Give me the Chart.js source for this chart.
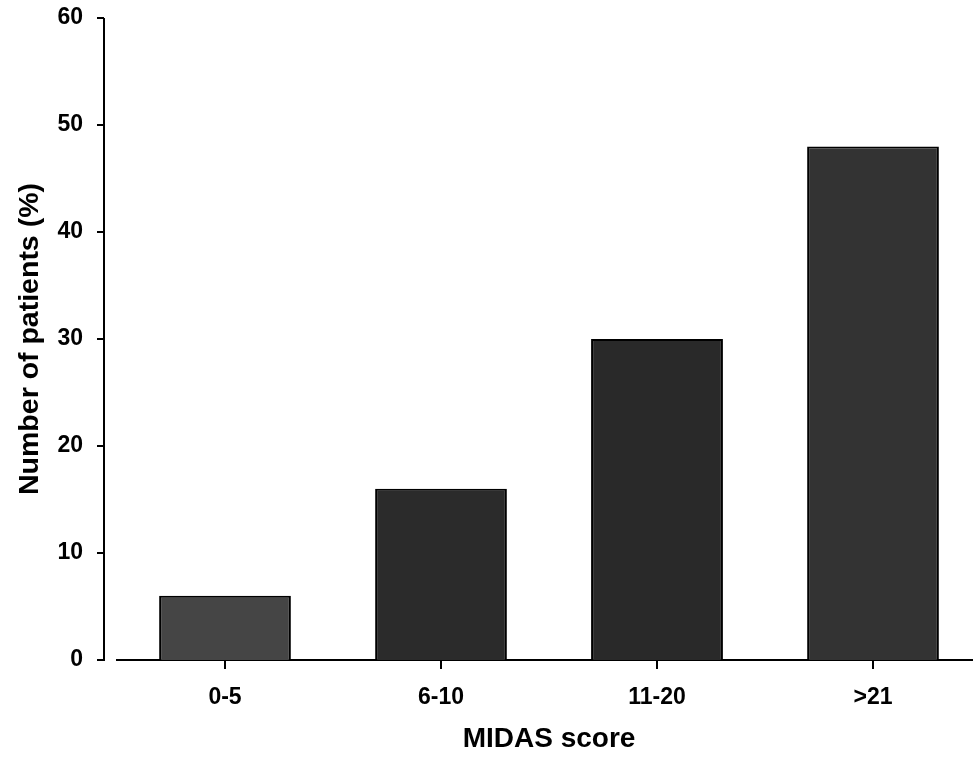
<!DOCTYPE html>
<html>
<head>
<meta charset="utf-8">
<title>MIDAS score distribution</title>
<script src="https://cdn.jsdelivr.net/npm/chart.js@4.4.1/dist/chart.umd.min.js"></script>
<style>
  html, body { margin: 0; padding: 0; background: #fff; overflow: hidden; }
  canvas { display: block; }
</style>
</head>
<body>
<canvas id="chart" width="985" height="758"></canvas>
<script>
const categories = ['0-5', '6-10', '11-20', '>21']
const patientShare = [6, 16, 30, 48]
const yTicks = [0, 10, 20, 30, 40, 50, 60]

const barColors = ['#454545', '#2b2b2b', '#292929', '#333333']
const FONT = '"Liberation Sans", Arial, sans-serif'

// y axis line sits a bit left of the plot, detached from the x axis
const detachedYAxis = {
  id: 'detachedYAxis',
  afterDraw(chart) {
    const { ctx, chartArea } = chart
    const y = chart.scales.y
    const axisX = chartArea.left - 13
    ctx.save()
    ctx.strokeStyle = '#000'
    ctx.lineWidth = 2
    ctx.beginPath()
    ctx.moveTo(axisX, y.getPixelForValue(yTicks[yTicks.length - 1]))
    ctx.lineTo(axisX, y.getPixelForValue(yTicks[0]) + 1)
    yTicks.forEach((v) => {
      const py = y.getPixelForValue(v)
      ctx.moveTo(axisX - 7, py)
      ctx.lineTo(axisX, py)
    })
    ctx.stroke()
    ctx.restore()
  },
}

const ctx = document.getElementById('chart').getContext('2d')
new Chart(ctx, {
  type: 'bar',
  data: {
    labels: categories,
    datasets: [{
      data: patientShare,
      backgroundColor: barColors,
      borderColor: '#000',
      borderWidth: 2,
      borderSkipped: 'bottom',
      categoryPercentage: 1,
      barPercentage: 0.61,
    }],
  },
  options: {
    responsive: false,
    animation: false,
    layout: { padding: { top: 18, right: 4, left: 0, bottom: 0 } },
    plugins: {
      legend: { display: false },
      tooltip: { enabled: false },
    },
    scales: {
      x: {
        afterFit(scale) {
          scale.height = 98
          scale.paddingLeft = 0
          scale.paddingRight = 0
        },
        border: { display: true, color: '#000', width: 2 },
        grid: {
          offset: false,
          drawOnChartArea: false,
          drawTicks: true,
          tickLength: 9,
          color: '#000',
          lineWidth: 2,
        },
        ticks: {
          color: '#000',
          padding: 15,
          font: { family: FONT, size: 23, weight: 'bold' },
        },
        title: {
          display: true,
          text: 'MIDAS score',
          color: '#000',
          font: { family: FONT, size: 28, weight: 'bold' },
          padding: { top: 0, bottom: 2 },
        },
      },
      y: {
        min: 0,
        max: 60,
        afterFit(scale) {
          scale.width = 117
          scale.paddingTop = 0
          scale.paddingBottom = 0
        },
        afterBuildTicks(scale) { scale.ticks = yTicks.map((v) => ({ value: v })) },
        border: { display: false },
        grid: { display: false, drawTicks: false },
        ticks: {
          color: '#000',
          padding: 34,
          font: { family: FONT, size: 23, weight: 'bold' },
        },
        title: {
          display: true,
          text: 'Number of patients (%)',
          color: '#000',
          font: { family: FONT, size: 28.5, weight: 'bold' },
          padding: { top: 13, bottom: 0 },
        },
      },
    },
  },
  plugins: [detachedYAxis],
})
</script>
</body>
</html>
